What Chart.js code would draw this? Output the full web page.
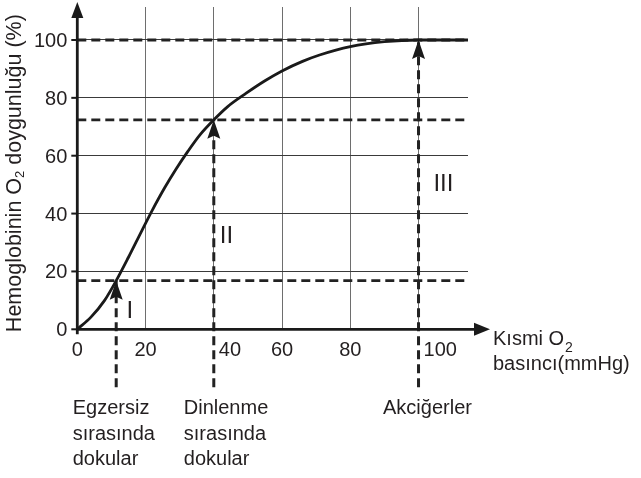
<!DOCTYPE html>
<html><head><meta charset="utf-8">
<script src="https://cdn.jsdelivr.net/npm/chart.js@4.4.1/dist/chart.umd.min.js"></script>
<style>html,body{margin:0;padding:0;background:#fff;} #wrap{width:641px;height:478px;}</style>
</head><body><div id="wrap"><canvas id="c" width="641" height="478"></canvas></div>
<script>
// ---- data ----
const pressure   = [0, 4, 8, 11.4, 15, 19, 22, 25.6, 29, 32.4, 36, 40, 44, 49.5, 55, 60, 66, 71, 80, 90, 100, 114.5];
const saturation = [0, 4.2, 10, 16.8, 24.9, 34.3, 41.2, 48.9, 55.5, 61.5, 67.3, 72.4, 76.9, 81.6, 85.9, 89.3, 92.6, 94.8, 97.7, 99.4, 100, 100];
const xTickValues = [0, 20, 40, 60, 80, 100];
const yTickValues = [0, 20, 40, 60, 80, 100];
const markerPressure   = [11.4, 40, 100];
const markerSaturation = [16.8, 72.4, 100];
const markerNames = [["Egzersiz", "sırasında", "dokular"], ["Dinlenme", "sırasında", "dokular"], ["Akciğerler"]];
const regionNames = ["I", "II", "III"];
const regionPressure   = [15.4, 43.7, 107.3];
const regionSaturation = [6.3, 32, 50];
const yTitleParts = ["Hemoglobinin O", "2", " doygunluğu (%)"];
const xTitleParts = ["Kısmi O", "2", "basıncı(mmHg)"];
const X_MAX = 114.5, Y_MAX = 111.4, DASH_BOTTOM = -20;

const FONT = '"Liberation Sans", Arial, sans-serif';
const INK = '#1a1a1a';

const datasets = [];
datasets.push({
  data: pressure.map((p, i) => ({x: p, y: saturation[i]})),
  borderColor: INK, borderWidth: 2.8, pointRadius: 0, showLine: true,
  cubicInterpolationMode: 'monotone', fill: false
});
markerSaturation.forEach(s => datasets.push({
  data: [{x: 0, y: s}, {x: X_MAX, y: s}],
  borderColor: '#222', borderWidth: 2.8, borderDash: [9, 5], pointRadius: 0, showLine: true
}));
markerPressure.forEach((p, i) => datasets.push({
  data: [{x: p, y: DASH_BOTTOM}, {x: p, y: markerSaturation[i]}],
  borderColor: '#222', borderWidth: 3, borderDash: [9, 5], pointRadius: 0, showLine: true, clip: false
}));

const deco = {
  id: 'deco',
  afterDatasetsDraw(chart) {
    const ctx = chart.ctx, xs = chart.scales.x, ys = chart.scales.y, a = chart.chartArea;
    const x0 = xs.getPixelForValue(0), y0 = ys.getPixelForValue(0);
    ctx.save();
    ctx.setLineDash([]);
    ctx.strokeStyle = INK; ctx.fillStyle = INK; ctx.lineWidth = 2.8;
    // y axis with arrow
    ctx.beginPath(); ctx.moveTo(x0, y0 + 5); ctx.lineTo(x0, a.top + 8); ctx.stroke();
    ctx.beginPath(); ctx.moveTo(x0, a.top - 5); ctx.lineTo(x0 - 6, a.top + 11); ctx.lineTo(x0 + 6, a.top + 11); ctx.closePath(); ctx.fill();
    // x axis with arrow
    ctx.beginPath(); ctx.moveTo(x0 - 1, y0); ctx.lineTo(a.right + 10, y0); ctx.stroke();
    ctx.beginPath(); ctx.moveTo(a.right + 22, y0); ctx.lineTo(a.right + 6, y0 - 6.5); ctx.lineTo(a.right + 6, y0 + 6.5); ctx.closePath(); ctx.fill();
    // y tick stubs
    ctx.lineWidth = 2;
    yTickValues.forEach(v => {
      const y = ys.getPixelForValue(v);
      ctx.beginPath(); ctx.moveTo(x0 - 6, y); ctx.lineTo(x0, y); ctx.stroke();
    });
    // arrowheads at curve
    markerPressure.forEach((p, i) => {
      const px = xs.getPixelForValue(p), py = ys.getPixelForValue(markerSaturation[i]);
      ctx.beginPath(); ctx.moveTo(px, py); ctx.lineTo(px - 6.5, py + 19); ctx.lineTo(px, py + 16); ctx.lineTo(px + 6.5, py + 19); ctx.closePath(); ctx.fill();
    });
    // tick labels
    ctx.fillStyle = '#231f20';
    ctx.font = '20px ' + FONT;
    ctx.textBaseline = 'alphabetic';
    ctx.textAlign = 'right';
    yTickValues.forEach(v => ctx.fillText(String(v), x0 - 10, ys.getPixelForValue(v) + 7));
    xTickValues.forEach(v => {
      const px = xs.getPixelForValue(v);
      if (markerPressure.includes(v)) { ctx.textAlign = 'left'; ctx.fillText(String(v), px + 5, y0 + 27); }
      else { ctx.textAlign = 'center'; ctx.fillText(String(v), px, y0 + 27); }
    });
    // marker names below
    const shift = [-43.5, -30, -35.5];
    ctx.textAlign = 'left';
    markerNames.forEach((lines, i) => {
      const px = xs.getPixelForValue(markerPressure[i]);
      lines.forEach((t, j) => ctx.fillText(t, px + shift[i], y0 + 85 + j * 25.5));
    });
    // region numerals
    ctx.font = '24px ' + FONT; ctx.textAlign = 'center'; ctx.textBaseline = 'middle';
    regionNames.forEach((t, i) => ctx.fillText(t, xs.getPixelForValue(regionPressure[i]), ys.getPixelForValue(regionSaturation[i])));
    // x title
    ctx.textAlign = 'left'; ctx.textBaseline = 'alphabetic';
    ctx.font = '20px ' + FONT;
    const tx = a.right + 25;
    ctx.fillText(xTitleParts[0], tx, y0 + 16);
    const w0 = ctx.measureText(xTitleParts[0]).width;
    ctx.font = '14px ' + FONT;
    ctx.fillText(xTitleParts[1], tx + w0 + 1, y0 + 23);
    ctx.font = '20px ' + FONT;
    ctx.fillText(xTitleParts[2], tx, y0 + 41);
    // y title (rotated)
    ctx.save();
    ctx.translate(21, (a.top + y0) / 2 + 5);
    ctx.rotate(-Math.PI / 2);
    const big = '21.5px ' + FONT, small = '13px ' + FONT;
    ctx.font = big;
    const p0 = ctx.measureText(yTitleParts[0]).width, p2 = ctx.measureText(yTitleParts[2]).width;
    ctx.font = small;
    const p1 = ctx.measureText(yTitleParts[1]).width;
    let sx = -(p0 + p1 + p2) / 2;
    ctx.font = big; ctx.fillText(yTitleParts[0], sx, 0); sx += p0;
    ctx.font = small; ctx.fillText(yTitleParts[1], sx, 3); sx += p1;
    ctx.font = big; ctx.fillText(yTitleParts[2], sx, 0);
    ctx.restore();
    ctx.restore();
  }
};

new Chart(document.getElementById('c'), {
  type: 'scatter',
  data: { datasets },
  options: {
    responsive: false, animation: false, events: [],
    layout: { padding: { left: 77.3, right: 173, top: 7, bottom: 148.7 } },
    plugins: { legend: { display: false }, tooltip: { enabled: false }, title: { display: false } },
    scales: {
      x: {
        type: 'linear', min: 0, max: X_MAX,
        ticks: { display: false, stepSize: 20, includeBounds: false },
        grid: { drawTicks: false, lineWidth: 1, color: c => (c.tick && c.tick.value === 0) ? 'rgba(0,0,0,0)' : '#6e6e6e' },
        border: { display: false },
        afterFit: s => { s.height = 0; }
      },
      y: {
        type: 'linear', min: 0, max: Y_MAX,
        ticks: { display: false, stepSize: 20, includeBounds: false },
        grid: { drawTicks: false, lineWidth: 1, color: c => (c.tick && c.tick.value === 0) ? 'rgba(0,0,0,0)' : '#3a3a3a' },
        border: { display: false },
        afterFit: s => { s.width = 0; }
      }
    }
  },
  plugins: [deco]
});
</script>
</body></html>
